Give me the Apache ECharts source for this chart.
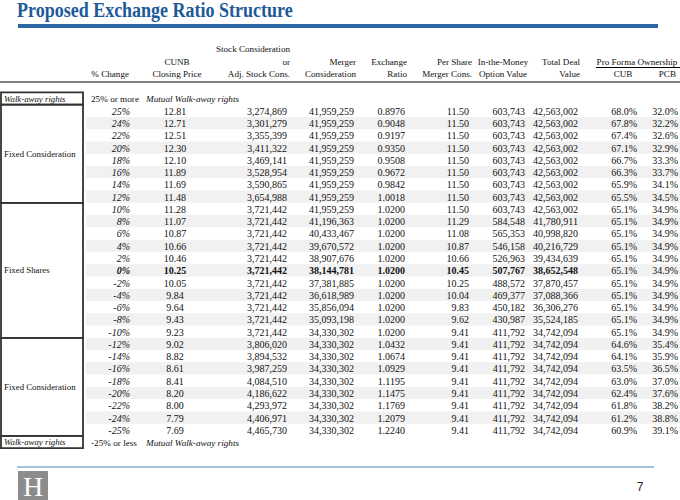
<!DOCTYPE html>
<html>
<head>
<meta charset="utf-8">
<script src="https://cdn.jsdelivr.net/npm/echarts@6/dist/echarts.min.js"></script>
<style>
html,body{margin:0;padding:0;background:#fff;}
#main{width:680px;height:500px;}
</style>
</head>
<body>
<div id="main"></div>
<script>
// ---------- DATA ----------
const pctChange = ['25%','24%','22%','20%','18%','16%','14%','12%','10%','8%','6%','4%','2%','0%','-2%','-4%','-6%','-8%','-10%','-12%','-14%','-16%','-18%','-20%','-22%','-24%','-25%'];
const closingPrice = [12.81,12.71,12.51,12.30,12.10,11.89,11.69,11.48,11.28,11.07,10.87,10.66,10.46,10.25,10.05,9.84,9.64,9.43,9.23,9.02,8.82,8.61,8.41,8.20,8.00,7.79,7.69];
const stockCons = [3274869,3301279,3355399,3411322,3469141,3528954,3590865,3654988,3721442,3721442,3721442,3721442,3721442,3721442,3721442,3721442,3721442,3721442,3721442,3806020,3894532,3987259,4084510,4186622,4293972,4406971,4465730];
const mergerCons = [41959259,41959259,41959259,41959259,41959259,41959259,41959259,41959259,41959259,41196363,40433467,39670572,38907676,38144781,37381885,36618989,35856094,35093198,34330302,34330302,34330302,34330302,34330302,34330302,34330302,34330302,34330302];
const exchangeRatio = [0.8976,0.9048,0.9197,0.9350,0.9508,0.9672,0.9842,1.0018,1.0200,1.0200,1.0200,1.0200,1.0200,1.0200,1.0200,1.0200,1.0200,1.0200,1.0200,1.0432,1.0674,1.0929,1.1195,1.1475,1.1769,1.2079,1.2240];
const perShareCons = [11.50,11.50,11.50,11.50,11.50,11.50,11.50,11.50,11.50,11.29,11.08,10.87,10.66,10.45,10.25,10.04,9.83,9.62,9.41,9.41,9.41,9.41,9.41,9.41,9.41,9.41,9.41];
const optionValue = [603743,603743,603743,603743,603743,603743,603743,603743,603743,584548,565353,546158,526963,507767,488572,469377,450182,430987,411792,411792,411792,411792,411792,411792,411792,411792,411792];
const totalDealValue = [42563002,42563002,42563002,42563002,42563002,42563002,42563002,42563002,42563002,41780911,40998820,40216729,39434639,38652548,37870457,37088366,36306276,35524185,34742094,34742094,34742094,34742094,34742094,34742094,34742094,34742094,34742094];
const cubOwnership = [68.0,67.8,67.4,67.1,66.7,66.3,65.9,65.5,65.1,65.1,65.1,65.1,65.1,65.1,65.1,65.1,65.1,65.1,65.1,64.6,64.1,63.5,63.0,62.4,61.8,61.2,60.9];
const pcbOwnership = [32.0,32.2,32.6,32.9,33.3,33.7,34.1,34.5,34.9,34.9,34.9,34.9,34.9,34.9,34.9,34.9,34.9,34.9,34.9,35.4,35.9,36.5,37.0,37.6,38.2,38.8,39.1];

const walkAwayThresholds = ['25% or more', '-25% or less'];
const walkAwayNote = 'Mutual Walk-away rights';
const groupLabels = ['Walk-away rights','Fixed Consideration','Fixed Shares','Fixed Consideration','Walk-away rights'];
const groupRowCounts = [1, 8, 11, 8, 1];
const baseRowLabel = '0%';

const titleText = 'Proposed Exchange Ratio Structure';
const pageNumber = '7';

// ---------- LAYOUT ----------
const FONT = '"Liberation Serif","Times New Roman",serif';
const nRows = pctChange.length + 2;
const rowKeys = [];
for (let i = 0; i < nRows; i++) rowKeys.push('r' + i);

const colLayout = {
  pct:   {x: 130, align: 'right'},
  price: {x: 175, align: 'center'},
  stock: {x: 287, align: 'right'},
  merger:{x: 354, align: 'right'},
  ratio: {x: 405, align: 'right'},
  share: {x: 469, align: 'right'},
  option:{x: 525, align: 'right'},
  total: {x: 578, align: 'right'},
  cub:   {x: 637, align: 'right'},
  pcb:   {x: 678, align: 'right'}
};
const boldCols = ['pct','price','stock','merger','ratio','share','option','total'];

const fmtInt = v => v.toLocaleString('en-US');
const cells = [];
function addCell(col, row, text, opts) {
  const L = colLayout[col] || col;
  cells.push(Object.assign({value: [L.x, row], text: text, align: L.align, bold: false, italic: false, size: 10}, opts || {}));
}
pctChange.forEach((p, i) => {
  const row = i + 1;
  const isBase = p === baseRowLabel;
  const b = c => ({bold: isBase && boldCols.indexOf(c) >= 0});
  addCell('pct', row, p, Object.assign({italic: true}, b('pct')));
  addCell('price', row, closingPrice[i].toFixed(2), b('price'));
  addCell('stock', row, fmtInt(stockCons[i]), b('stock'));
  addCell('merger', row, fmtInt(mergerCons[i]), b('merger'));
  addCell('ratio', row, exchangeRatio[i].toFixed(4), b('ratio'));
  addCell('share', row, perShareCons[i].toFixed(2), b('share'));
  addCell('option', row, fmtInt(optionValue[i]), b('option'));
  addCell('total', row, fmtInt(totalDealValue[i]), b('total'));
  addCell('cub', row, cubOwnership[i].toFixed(1) + '%', b('cub'));
  addCell('pcb', row, pcbOwnership[i].toFixed(1) + '%', b('pcb'));
});
[0, nRows - 1].forEach((row, k) => {
  addCell({x: 91, align: 'left'}, row, walkAwayThresholds[k], {size: 9.2});
  addCell({x: 146, align: 'left'}, row, walkAwayNote, {italic: true, size: 9.2});
});

const shadedRows = [];
for (let r = 2; r < nRows - 1; r += 2) shadedRows.push([0, r]);

const groups = [];
let start = 0;
groupLabels.forEach((g, i) => {
  groups.push({value: [start, start + groupRowCounts[i] - 1], label: g, italic: g.indexOf('Walk') === 0});
  start += groupRowCounts[i];
});

const headers = [
  ['Stock Consideration', 290, 49, 'right'],
  ['CUNB', 177, 62, 'center'], ['or', 290, 62, 'right'], ['Merger', 356, 62, 'right'],
  ['Exchange', 407, 62, 'right'], ['Per Share', 472, 62, 'right'], ['In-the-Money', 503, 62, 'center'],
  ['Total Deal', 580, 62, 'right'], ['Pro Forma Ownership', 637, 62, 'center'],
  ['% Change', 129, 74, 'right'], ['Closing Price', 177, 74, 'center'], ['Adj. Stock Cons.', 290, 74, 'right'],
  ['Consideration', 356, 74, 'right'], ['Ratio', 407, 74, 'right'], ['Merger Cons.', 472, 74, 'right'],
  ['Option Value', 503, 74, 'center'], ['Value', 580, 74, 'right'], ['CUB', 623, 74, 'center'], ['PCB', 676, 74, 'right']
];

const graphics = [
  {type: 'text', x: 17, y: 0, scaleX: 0.9, style: {text: titleText, fill: '#1D5A98', font: 'bold 20px ' + FONT, align: 'left', verticalAlign: 'top'}},
  {type: 'rect', shape: {x: 18, y: 24, width: 640, height: 4}, style: {fill: '#2B67A4'}},
  {type: 'line', shape: {x1: 0, y1: 82, x2: 680, y2: 82}, style: {stroke: '#000', lineWidth: 1}},
  {type: 'line', shape: {x1: 596, y1: 67.5, x2: 680, y2: 67.5}, style: {stroke: '#000', lineWidth: 1}},
  {type: 'line', shape: {x1: 17, y1: 467, x2: 654, y2: 467}, style: {stroke: '#4F81BD', lineWidth: 1}},
  {type: 'rect', shape: {x: 18, y: 471, width: 30, height: 29}, style: {fill: '#8C8C8C'}},
  {type: 'text', x: 33, y: 486, style: {text: 'H', fill: '#fff', font: '28px ' + FONT, align: 'center', verticalAlign: 'middle'}},
  {type: 'text', x: 640, y: 487, style: {text: pageNumber, fill: '#222', font: '12px "Liberation Sans",Arial,sans-serif', align: 'center', verticalAlign: 'middle'}}
];
headers.forEach(h => graphics.push({
  type: 'text', x: h[1], y: h[2],
  style: {text: h[0], fill: '#111', font: '9.1px ' + FONT, align: h[3], verticalAlign: 'middle'}
}));

const chart = echarts.init(document.getElementById('main'), null, {renderer: 'svg'});
chart.setOption({
  animation: false,
  backgroundColor: '#fff',
  grid: {left: 0, right: 0, top: 92.4, height: 355.8},
  xAxis: {type: 'value', min: 0, max: 680, show: false},
  yAxis: {type: 'category', data: rowKeys, inverse: true, show: false},
  graphic: graphics,
  series: [
    {
      type: 'custom', name: 'shading', data: shadedRows, silent: true, z: 1,
      renderItem: (params, api) => {
        const c = api.coord([86, api.value(1)]);
        const c2 = api.coord([680, api.value(1)]);
        const h = api.size([0, 1])[1];
        return {type: 'rect', shape: {x: c[0], y: c[1] - h / 2, width: c2[0] - c[0], height: h}, style: {fill: '#F1F1F1'}};
      }
    },
    {
      type: 'custom', name: 'groups', data: groups.map(g => g.value), silent: true, z: 3,
      renderItem: (params, api) => {
        const g = groups[params.dataIndex];
        const h = api.size([0, 1])[1];
        const top = api.coord([1, api.value(0)])[1] - h / 2;
        const bot = api.coord([1, api.value(1)])[1] + h / 2;
        const x0 = api.coord([1, 0])[0];
        const x1 = api.coord([83, 0])[0];
        return {
          type: 'group',
          children: [
            {type: 'rect', shape: {x: x0, y: top, width: x1 - x0, height: bot - top},
             style: {fill: 'none', stroke: '#333', lineWidth: 1.8}},
            {type: 'text', x: x0 + 3, y: (top + bot) / 2,
             style: {text: g.label, fill: '#111', align: 'left', verticalAlign: 'middle',
                     font: (g.italic ? 'italic ' : '') + '8.8px ' + FONT}}
          ]
        };
      }
    },
    {
      type: 'custom', name: 'cells', data: cells.map(c => c.value), silent: true, z: 4,
      renderItem: (params, api) => {
        const c = cells[params.dataIndex];
        const p = api.coord([api.value(0), api.value(1)]);
        return {
          type: 'text', x: p[0], y: p[1] + 0.5,
          style: {
            text: c.text, fill: '#111', align: c.align, verticalAlign: 'middle',
            font: (c.italic ? 'italic ' : '') + (c.bold ? 'bold ' : '') + c.size + 'px ' + FONT
          }
        };
      }
    }
  ]
});
</script>
</body>
</html>
